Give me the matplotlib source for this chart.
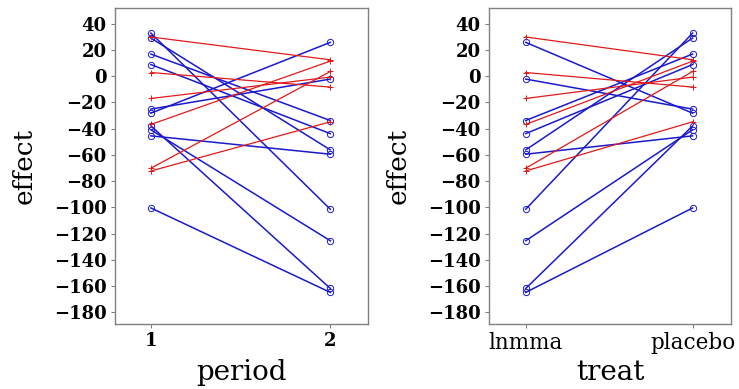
import matplotlib
matplotlib.use('Agg')
import matplotlib.pyplot as plt

# subjects given placebo first, lnmma second (blue)
blue_placebo = [32.9, 29.1, 16.9, 8.9, -25.1, -28.2, -37.9, -40.9, -45.5, -100.5]
blue_lnmma = [-101.5, -56.2, -33.8, -43.8, -2.2, 25.8, -161.9, -125.5, -59.5, -164.9]

# subjects given lnmma first, placebo second (red)
red_lnmma = [29.9, 2.8, -17.0, -36.8, -70.2, -72.3]
red_placebo = [12.5, -8.3, -0.7, 11.5, 3.6, -34.8]

period_ticks = [1, 2]
period_labels = ['1', '2']
treat_ticks = [0, 1]
treat_labels = ['lnmma', 'placebo']
yticks = list(range(-180, 41, 20))

BLUE = '#1a1acc'
RED = '#e01a1a'
SPINE = '#808080'

fig = plt.figure(figsize=[7.39, 3.89], dpi=100)
ax1 = fig.add_axes([0.1556, 0.1671, 0.3424, 0.8123])
ax2 = fig.add_axes([0.6617, 0.1671, 0.3275, 0.8123])


def draw_pair(ax, x, a, b, color, marker, lw):
    for ya, yb in zip(a, b):
        ax.plot(x, [ya, yb], color=color, lw=lw, marker=marker,
                markersize=4.5, markerfacecolor='none', markeredgecolor=color,
                markeredgewidth=0.7)


# period panel: blue goes placebo -> lnmma, red goes lnmma -> placebo
draw_pair(ax1, period_ticks, blue_placebo, blue_lnmma, BLUE, 'o', 1.1)
draw_pair(ax1, period_ticks, red_lnmma, red_placebo, RED, '+', 0.9)

# treat panel: lnmma -> placebo
draw_pair(ax2, treat_ticks, blue_lnmma, blue_placebo, BLUE, 'o', 1.1)
draw_pair(ax2, treat_ticks, red_lnmma, red_placebo, RED, '+', 0.9)

for ax, ticks, labels, xlab, xlim, bold in [
        (ax1, period_ticks, period_labels, 'period', (0.8, 2.21), True),
        (ax2, treat_ticks, treat_labels, 'treat', (-0.22, 1.23), False)]:
    ax.set_xlim(*xlim)
    ax.set_ylim(-189, 52)
    ax.set_yticks(yticks)
    ax.set_yticklabels([f'\u2212{-v}' if v < 0 else str(v) for v in yticks],
                       family='DejaVu Serif', fontweight='bold', fontsize=13)
    ax.set_xticks(ticks)
    ax.set_xticklabels(labels, family='DejaVu Serif',
                       fontweight='bold' if bold else 'normal',
                       fontsize=13 if bold else 15.5)
    ax.set_xlabel(xlab, family='DejaVu Serif', fontsize=20)
    ax.xaxis.set_label_coords(0.5, -0.11)
    ax.set_ylabel('effect', family='DejaVu Serif', fontsize=19, labelpad=12)
    for s in ax.spines.values():
        s.set_color(SPINE)
        s.set_linewidth(1.0)
    ax.tick_params(color=SPINE, length=3, width=0.8, pad=3)

plt.savefig('out.png')
